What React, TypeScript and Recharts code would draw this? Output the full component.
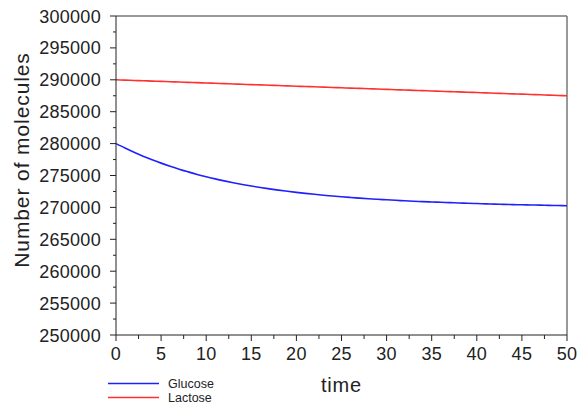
import { LineChart, Line, XAxis, YAxis, ReferenceLine } from 'recharts';

const times = [
  0, 1, 2, 3, 4, 5, 6, 7, 8, 9, 10, 11, 12, 13, 14, 15, 16, 17, 18, 19, 20, 21, 22, 23, 24, 25,
  26, 27, 28, 29, 30, 31, 32, 33, 34, 35, 36, 37, 38, 39, 40, 41, 42, 43, 44, 45, 46, 47, 48, 49, 50,
];

const glucose = [
  280000, 279300, 278640, 278030, 277470, 276940, 276450, 275990, 275570, 275170, 274810, 274470,
  274160, 273870, 273600, 273350, 273120, 272910, 272710, 272530, 272360, 272200, 272050, 271910,
  271790, 271670, 271560, 271460, 271360, 271270, 271190, 271110, 271040, 270970, 270910, 270850,
  270800, 270750, 270700, 270650, 270600, 270560, 270520, 270480, 270440, 270410, 270380, 270350,
  270320, 270290, 270260,
];

const lactose = [
  290000, 289950, 289900, 289850, 289800, 289750, 289700, 289650, 289600, 289550, 289500, 289450,
  289400, 289350, 289300, 289250, 289200, 289150, 289100, 289050, 289000, 288950, 288900, 288850,
  288800, 288750, 288700, 288650, 288600, 288550, 288500, 288450, 288400, 288350, 288300, 288250,
  288200, 288150, 288100, 288050, 288000, 287950, 287900, 287850, 287800, 287750, 287700, 287650,
  287600, 287550, 287500,
];

const xTicks = [
  0, 2.5, 5, 7.5, 10, 12.5, 15, 17.5, 20, 22.5, 25, 27.5, 30, 32.5, 35, 37.5, 40, 42.5, 45, 47.5, 50,
];
const yTicks = [
  250000, 252500, 255000, 257500, 260000, 262500, 265000, 267500, 270000, 272500, 275000, 277500,
  280000, 282500, 285000, 287500, 290000, 292500, 295000, 297500, 300000,
];

const data = times.map((t, i) => ({ t, glucose: glucose[i], lactose: lactose[i] }));

const FONT = '"Liberation Sans", Arial, Helvetica, sans-serif';

function YTick(props: any) {
  const { x, y, payload } = props;
  const major = payload.value % 5000 === 0;
  return (
    <g>
      <line x1={x - (major ? 6 : 3)} x2={x} y1={y} y2={y} stroke="#222" strokeWidth={1} />
      {major && (
        <text x={x - 15} y={y} dy={6.5} textAnchor="end" fontSize={18} fill="#222" fontFamily={FONT} letterSpacing={0.3}>
          {payload.value}
        </text>
      )}
    </g>
  );
}

function XTick(props: any) {
  const { x, y, payload } = props;
  const major = payload.value % 5 === 0;
  return (
    <g>
      <line x1={x} x2={x} y1={y} y2={y + (major ? 6 : 4)} stroke="#222" strokeWidth={1} />
      {major && (
        <text x={x} y={y + 25} textAnchor="middle" fontSize={18} fill="#222" fontFamily={FONT} letterSpacing={0.3}>
          {payload.value}
        </text>
      )}
    </g>
  );
}

function YLabel() {
  return (
    <text
      x={21}
      y={160}
      transform="rotate(-90 21 160)"
      textAnchor="middle"
      dominantBaseline="central"
      fontSize={21}
      fill="#222"
      fontFamily={FONT}
      letterSpacing={0.9}
    >
      Number of molecules
    </text>
  );
}

export default function App() {
  return (
    <div style={{ position: 'absolute', left: 0, top: 0, width: 580, height: 407, background: '#fff' }}>
      <LineChart width={580} height={407} data={data} margin={{ top: 16, right: 13, bottom: 0, left: 0 }}>
        <XAxis
          dataKey="t"
          type="number"
          domain={[0, 50]}
          ticks={xTicks}
          interval={0}
          tickSize={0}
          tickMargin={0}
          tickLine={false}
          tick={<XTick />}
          axisLine={{ stroke: '#222' }}
          height={72}
          label={{ value: 'time', position: 'insideBottom', offset: 15, fontSize: 20, fill: '#222', fontFamily: FONT, letterSpacing: 0.8 } as any}
        />
        <YAxis
          type="number"
          domain={[250000, 300000]}
          ticks={yTicks}
          interval={0}
          tickSize={0}
          tickMargin={0}
          tickLine={false}
          tick={<YTick />}
          axisLine={{ stroke: '#222' }}
          width={116}
          label={{ content: () => <YLabel /> } as any}
        />
        <ReferenceLine y={300000} stroke="#777" strokeWidth={1.5} />
        <ReferenceLine x={50} stroke="#777" strokeWidth={1.5} />
        <Line type="monotone" dataKey="glucose" stroke="#2020ff" strokeWidth={1.6} dot={false} isAnimationActive={false} />
        <Line type="monotone" dataKey="lactose" stroke="#ff3030" strokeWidth={1.6} dot={false} isAnimationActive={false} />
      </LineChart>
      <svg width={200} height={40} style={{ position: 'absolute', left: 100, top: 374 }}>
        <line x1={8} x2={59} y1={9.5} y2={9.5} stroke="#2020ff" strokeWidth={1.3} />
        <text x={68} y={13.5} fontSize={12.5} fontFamily={FONT} fill="#222">Glucose</text>
        <line x1={8} x2={59} y1={23.5} y2={23.5} stroke="#ff3030" strokeWidth={1.3} />
        <text x={68} y={27.5} fontSize={12.5} fontFamily={FONT} fill="#222">Lactose</text>
      </svg>
    </div>
  );
}
